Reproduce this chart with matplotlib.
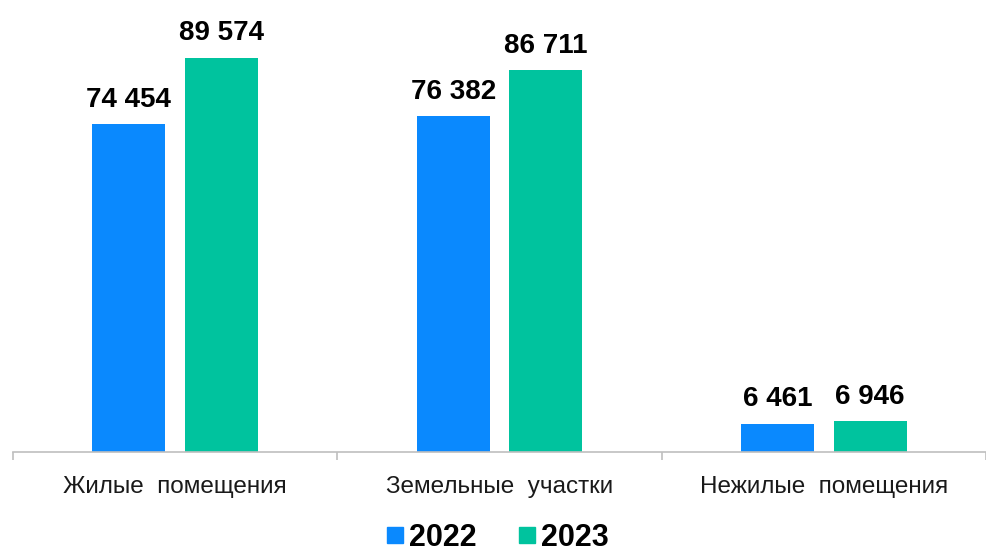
import matplotlib
matplotlib.use("Agg")
import matplotlib.pyplot as plt
import numpy as np
from matplotlib.lines import Line2D

plt.rcParams['font.family'] = ['Liberation Sans', 'DejaVu Sans']

# Data
categories = ['Жилые  помещения', 'Земельные  участки', 'Нежилые  помещения']
series_names = ['2022', '2023']
values_2022 = [74454, 76382, 6461]
values_2023 = [89574, 86711, 6946]
colors = ['#0A89FE', '#00C39E']

def fmt(v):
    return f"{v:,}".replace(",", " ")

fig = plt.figure(figsize=(9.86, 5.57), dpi=100)
ax = fig.add_axes([0.0132, 0.1885, 0.9868, 0.79])

x = np.arange(len(categories))
offset = 0.143
width = 0.225
b1 = ax.bar(x - offset, values_2022, width=width, color=colors[0])
b2 = ax.bar(x + offset, values_2023, width=width, color=colors[1])

for bars, vals in [(b1, values_2022), (b2, values_2023)]:
    for rect, v in zip(bars, vals):
        ax.annotate(fmt(v), (rect.get_x() + rect.get_width() / 2, rect.get_height()),
                    xytext=(0, 12.5), textcoords='offset points',
                    ha='center', va='baseline', fontsize=20, fontweight='bold', color='#000000')

ax.set_xlim(-0.5, 2.5)
ax.set_ylim(0, 100000)
ax.set_yticks([])
ax.set_xticks(x)
ax.set_xticklabels(categories, fontsize=17.5, color='#1a1a1a')
ax.tick_params(axis='x', which='major', length=0, pad=17)
ax.set_xticks([-0.5, 0.5, 1.5, 2.5], minor=True)
ax.tick_params(axis='x', which='minor', length=6, width=1.2, color='#BFBFBF')

for s in ['top', 'right', 'left']:
    ax.spines[s].set_visible(False)
ax.spines['bottom'].set_color('#BFBFBF')
ax.spines['bottom'].set_linewidth(1.2)

handles = [Line2D([], [], marker='s', linestyle='none', markersize=11, color=c) for c in colors]
fig.legend(handles, series_names, loc='center', bbox_to_anchor=(0.502, 1 - 538 / 557),
           ncol=2, frameon=False, prop={'size': 22, 'weight': 'bold'},
           handletextpad=0.0, columnspacing=1.2, handlelength=0.9)

fig.savefig('out.png', dpi=100)
